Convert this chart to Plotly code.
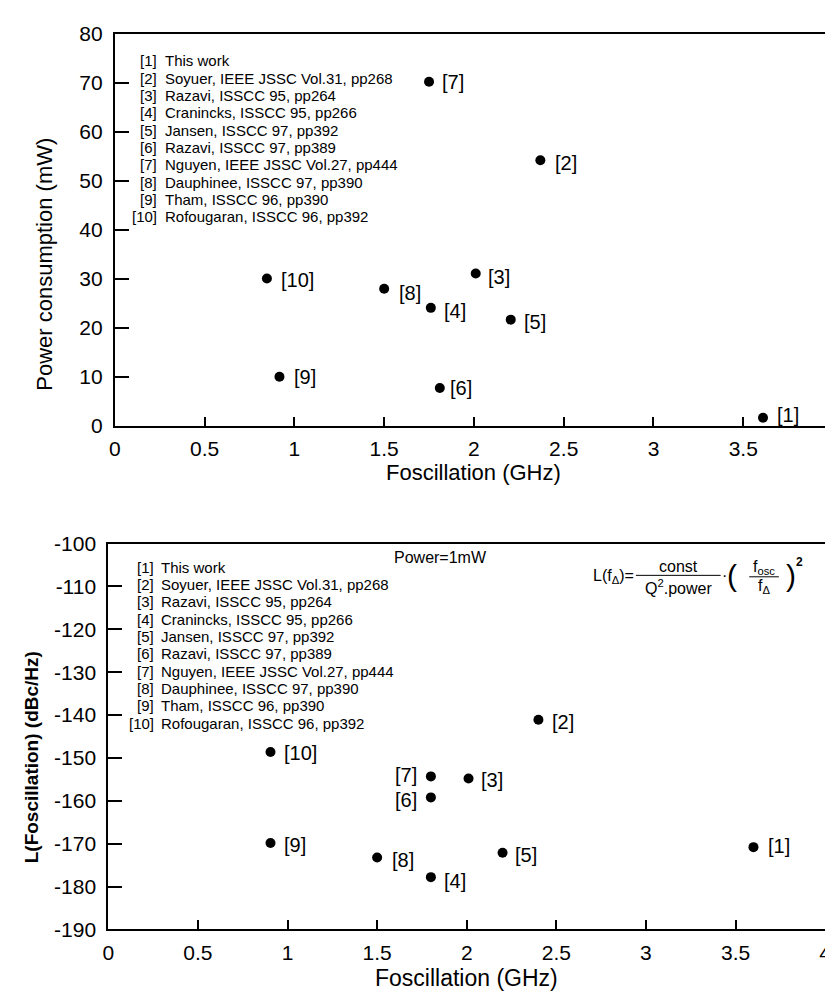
import plotly.graph_objects as go

# ---------------- data ----------------
ref_ids = ["[1]", "[2]", "[3]", "[4]", "[5]", "[6]", "[7]", "[8]", "[9]", "[10]"]
ref_texts = [
    "This work",
    "Soyuer, IEEE JSSC Vol.31, pp268",
    "Razavi, ISSCC 95, pp264",
    "Cranincks, ISSCC 95, pp266",
    "Jansen, ISSCC 97, pp392",
    "Razavi, ISSCC 97, pp389",
    "Nguyen, IEEE JSSC Vol.27, pp444",
    "Dauphinee, ISSCC 97, pp390",
    "Tham, ISSCC 96, pp390",
    "Rofougaran, ISSCC 96, pp392",
]

# top chart: power consumption vs oscillation frequency
power_freq_ghz = [3.61, 2.37, 2.01, 1.76, 2.205, 1.81, 1.75, 1.50, 0.917, 0.847]
power_mw = [1.7, 54.2, 31.1, 24.1, 21.7, 7.75, 70.2, 28.0, 10.07, 30.1]

# bottom chart: phase noise normalised to 1 mW
noise_freq_ghz = [3.60, 2.40, 2.01, 1.80, 2.20, 1.80, 1.80, 1.50, 0.905, 0.905]
noise_dbc_hz = [-170.8, -141.1, -154.8, -177.8, -172.1, -159.2, -154.3, -173.2, -169.85, -148.6]

x_tick_vals = [0, 0.5, 1, 1.5, 2, 2.5, 3, 3.5, 4]
x_tick_text = ["0", "0.5", "1", "1.5", "2", "2.5", "3", "3.5", "4"]
power_tick_vals = [0, 10, 20, 30, 40, 50, 60, 70, 80]
power_tick_text = ["0", "10", "20", "30", "40", "50", "60", "70", "80"]
noise_tick_vals = [-190, -180, -170, -160, -150, -140, -130, -120, -110, -100]
noise_tick_text = ["-190", "-180", "-170", "-160", "-150", "-140", "-130", "-120", "-110", "-100"]

# ---------------- styling ----------------
W, H = 833, 994
FONT = "Liberation Sans, Arial, Helvetica, sans-serif"


def px(x):
    return x / W


def py(y):
    return 1 - y / H


# label offsets (pixels: right, down) and anchors for the point labels
top_lbl_dx = [12, 13, 10.5, 11, 11.5, 7.7, 11, 13, 12.4, 12]
top_lbl_dy = [-3, 2.3, 3, 2.7, 2.7, 0, 0, 4, 0.7, 1.3]
top_lbl_anchor = ["left"] * 10
bot_lbl_dx = [13, 11.7, 10, 11, 10.6, -11.7, -11.7, 12.7, 11.7, 11.7]
bot_lbl_dy = [-0.7, 2.3, 1.7, 4, 2.7, 2.3, -1.7, 2.7, 1.7, 1]
bot_lbl_anchor = ["left", "left", "left", "left", "left", "right", "right", "left", "left", "left"]

fig = go.Figure()
fig.add_trace(go.Scatter(
    x=power_freq_ghz, y=power_mw, mode="markers", xaxis="x", yaxis="y",
    marker=dict(color="black", size=10), showlegend=False, hoverinfo="skip"))
fig.add_trace(go.Scatter(
    x=noise_freq_ghz, y=noise_dbc_hz, mode="markers", xaxis="x2", yaxis="y2",
    marker=dict(color="black", size=10), showlegend=False, hoverinfo="skip"))

axis_common = dict(
    showline=True, linecolor="black", linewidth=2, mirror=True,
    ticks="inside", tickcolor="black", tickwidth=1.5,
    showgrid=False, zeroline=False,
    tickfont=dict(family=FONT, size=21, color="black"),
)

fig.update_layout(
    width=W, height=H,
    margin=dict(l=0, r=0, t=0, b=0),
    paper_bgcolor="white", plot_bgcolor="white",
    font=dict(family=FONT, color="black"),
    xaxis=dict(domain=[px(102.3), px(831)], range=[0, 4], anchor="y",
               tickvals=x_tick_vals, ticktext=x_tick_text, ticklen=9,
               ticklabelstandoff=3, **axis_common),
    yaxis=dict(domain=[py(415.7), py(14)], range=[0, 80], anchor="x",
               tickvals=power_tick_vals, ticktext=power_tick_text, ticklen=14,
               ticklabelstandoff=6, **axis_common),
    xaxis2=dict(domain=[px(95.7), px(823)], range=[0, 4], anchor="y2",
                tickvals=x_tick_vals, ticktext=x_tick_text, ticklen=9,
                ticklabelstandoff=3, **axis_common),
    yaxis2=dict(domain=[py(931), py(536)], range=[-190, -100], anchor="x2",
                tickvals=noise_tick_vals, ticktext=noise_tick_text, ticklen=14,
                ticklabelstandoff=6, **axis_common),
)

ann = []

# point labels
for i, r in enumerate(ref_ids):
    ann.append(dict(x=power_freq_ghz[i], y=power_mw[i], xref="x", yref="y",
                    text=r, showarrow=False, xanchor=top_lbl_anchor[i], yanchor="middle",
                    xshift=top_lbl_dx[i], yshift=-top_lbl_dy[i],
                    font=dict(family=FONT, size=20, color="black")))
    ann.append(dict(x=noise_freq_ghz[i], y=noise_dbc_hz[i], xref="x2", yref="y2",
                    text=r, showarrow=False, xanchor=bot_lbl_anchor[i], yanchor="middle",
                    xshift=bot_lbl_dx[i], yshift=-bot_lbl_dy[i],
                    font=dict(family=FONT, size=20, color="black")))

# reference lists (two columns: number right aligned, text left aligned)
for block_y0, num_right, text_left in [(41.7, 147.5, 151.0), (560.0, 144.5, 147.0)]:
    for i, (r, t) in enumerate(zip(ref_ids, ref_texts)):
        yy = block_y0 + i * 17.75
        ann.append(dict(x=px(num_right), y=py(yy), xref="paper", yref="paper",
                        text=r, showarrow=False, xanchor="right", yanchor="middle",
                        font=dict(family=FONT, size=15, color="black")))
        ann.append(dict(x=px(text_left), y=py(yy), xref="paper", yref="paper",
                        text=t, showarrow=False, xanchor="left", yanchor="middle",
                        font=dict(family=FONT, size=15, color="black")))

# axis titles
ann.append(dict(x=px(466.7), y=py(463), xref="paper", yref="paper",
                text="Foscillation (GHz)", showarrow=False,
                xanchor="center", yanchor="middle",
                font=dict(family=FONT, size=22, color="black")))
ann.append(dict(x=px(459.5), y=py(981), xref="paper", yref="paper",
                text="Foscillation (GHz)", showarrow=False,
                xanchor="center", yanchor="middle",
                font=dict(family=FONT, size=23, color="black")))
ann.append(dict(x=px(31), y=py(250), xref="paper", yref="paper",
                text="Power consumption (mW)", showarrow=False, textangle=-90,
                xanchor="center", yanchor="middle",
                font=dict(family=FONT, size=22, color="black")))
ann.append(dict(x=px(18), y=py(755), xref="paper", yref="paper",
                text="<b>L(Foscillation) (dBc/Hz)</b>", showarrow=False, textangle=-90,
                xanchor="center", yanchor="middle",
                font=dict(family=FONT, size=19, color="black")))

# Power=1mW note
ann.append(dict(x=px(433), y=py(550), xref="paper", yref="paper",
                text="Power=1mW", showarrow=False, xanchor="center", yanchor="middle",
                font=dict(family=FONT, size=16, color="black")))

# formula L(fΔ) = const / (Q².power) · (fosc / fΔ)²
fsz = 16
ann += [
    dict(x=px(631), y=py(570), text="L(f<sub>Δ</sub>)=", xanchor="right"),
    dict(x=px(674), y=py(559), text="const", xanchor="center"),
    dict(x=px(674), y=py(580), text="Q<sup>2</sup>.power", xanchor="center"),
    dict(x=px(721), y=py(569), text="·", xanchor="center"),
    dict(x=px(761), y=py(560), text="f<sub>osc</sub>", xanchor="center"),
    dict(x=px(761), y=py(580), text="f<sub>Δ</sub>", xanchor="center"),
]
for a in ann[-6:]:
    a.update(xref="paper", yref="paper", showarrow=False, yanchor="middle",
             font=dict(family=FONT, size=fsz, color="black"))
for xx, ch in [(729, "("), (788, ")")]:
    ann.append(dict(x=px(xx), y=py(569), xref="paper", yref="paper", text=ch,
                    showarrow=False, xanchor="center", yanchor="middle",
                    font=dict(family=FONT, size=30, color="black")))
ann.append(dict(x=px(797), y=py(555), xref="paper", yref="paper", text="<b>2</b>",
                showarrow=False, xanchor="center", yanchor="middle",
                font=dict(family=FONT, size=12, color="black")))

fig.update_layout(annotations=ann)

fig.add_shape(type="line", xref="paper", yref="paper",
              x0=px(631), x1=px(717), y0=py(568.5), y1=py(568.5),
              line=dict(color="black", width=1))
fig.add_shape(type="line", xref="paper", yref="paper",
              x0=px(746), x1=px(776), y0=py(570), y1=py(570),
              line=dict(color="black", width=1))

fig.write_html("out.html")
